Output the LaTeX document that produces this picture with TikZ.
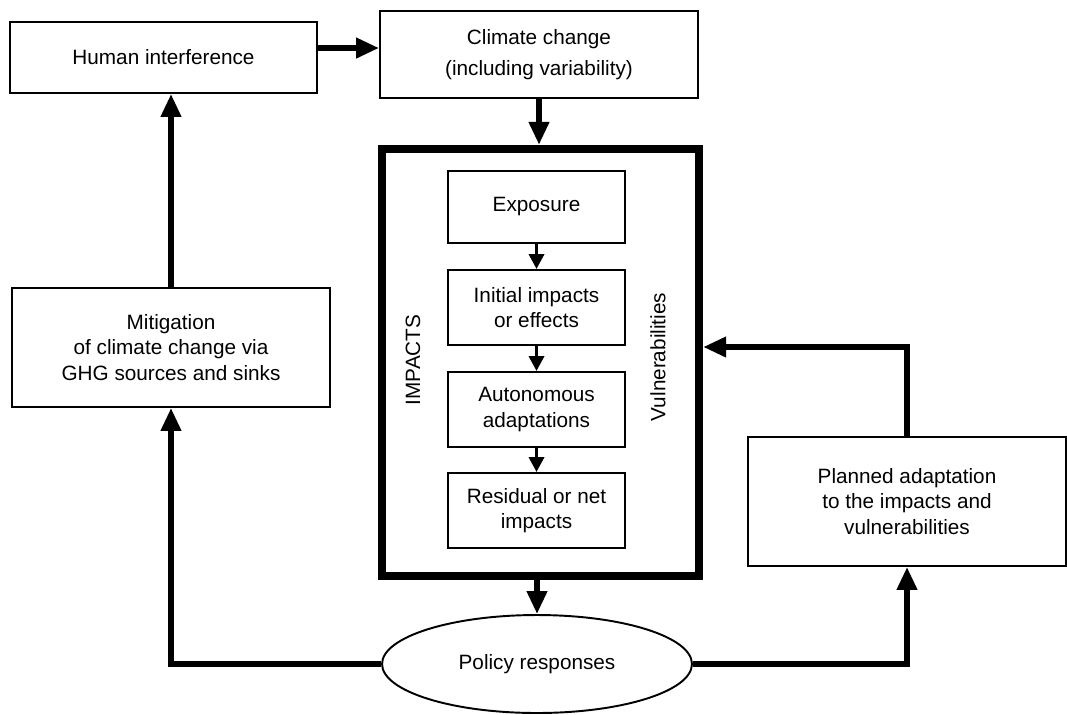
\documentclass[tikz,border=0pt]{standalone}
\usepackage{fontspec}
\setmainfont{Liberation Sans}
\usetikzlibrary{arrows.meta,shapes.geometric}
\begin{document}
\begin{tikzpicture}[x=0.02cm, y=-0.02cm,
  font=\fontsize{11.8}{14.5}\selectfont,
  box/.style={draw, line width=1.1pt, align=center, inner sep=0pt},
  freccia/.style={line width=3.2pt, -{Triangle[length=13pt, width=11pt]}},
  freccina/.style={line width=2pt, -{Triangle[length=8.5pt, width=8.5pt]}}]
\useasboundingbox (0,0) rectangle (1067,714);
% Riquadri esterni
\node[box, minimum width=6.14cm, minimum height=1.42cm] (human) at (163.5,57.5) {Human interference};
\node[box, minimum width=6.36cm, minimum height=1.74cm] (climate) at (539,54.5) {Climate change\\[3pt](including variability)};
\node[box, minimum width=6.36cm, minimum height=2.38cm] (mitig) at (171,347.5) {Mitigation\\of climate change via\\GHG sources and sinks};
\node[box, minimum width=6.36cm, minimum height=2.58cm] (planned) at (907,501.5) {Planned adaptation\\to the impacts and\\vulnerabilities};
\node[box, ellipse, minimum width=6.2cm, minimum height=1.96cm] (policy) at (537,664) {Policy responses};
% Riquadro spesso degli impatti
\node[draw, line width=4.8pt, minimum width=6.34cm, minimum height=8.54cm] (impbox) at (540.5,362.5) {};
\node[box, minimum width=3.54cm, minimum height=1.44cm] (expos) at (536.5,207) {Exposure};
\node[box, minimum width=3.54cm, minimum height=1.5cm] (initial) at (536.5,307.5) {Initial impacts\\or effects};
\node[box, minimum width=3.54cm, minimum height=1.5cm] (auton) at (536.5,409.5) {Autonomous\\adaptations};
\node[box, minimum width=3.54cm, minimum height=1.5cm] (resid) at (536.5,510.5) {Residual or net\\impacts};
\node[rotate=90] (impacts) at (413,360) {IMPACTS};
\node[rotate=90] (vulner) at (658,357) {Vulnerabilities};
\path (impbox.east) ++(0,-15.5) coordinate (vul); % ingresso freccia
% Frecce
\draw[freccia] ([yshift=5.4pt]human.east) -- ([yshift=5.4pt]human.east -| climate.west);
\draw[freccia] (climate.south) -- (climate.south |- impbox.north);
\draw[freccina] (expos) -- (initial);
\draw[freccina] (initial) -- (auton);
\draw[freccina] (auton) -- (resid);
\draw[freccia] (policy.north |- impbox.south) -- (policy.north);
\draw[freccia] (policy.west) -| (mitig.south);
\draw[freccia] (mitig.north) -- (mitig.north |- human.south);
\draw[freccia] (policy.east) -| (planned.south);
\draw[freccia] (planned.north) |- (vul);
\end{tikzpicture}
\end{document}
